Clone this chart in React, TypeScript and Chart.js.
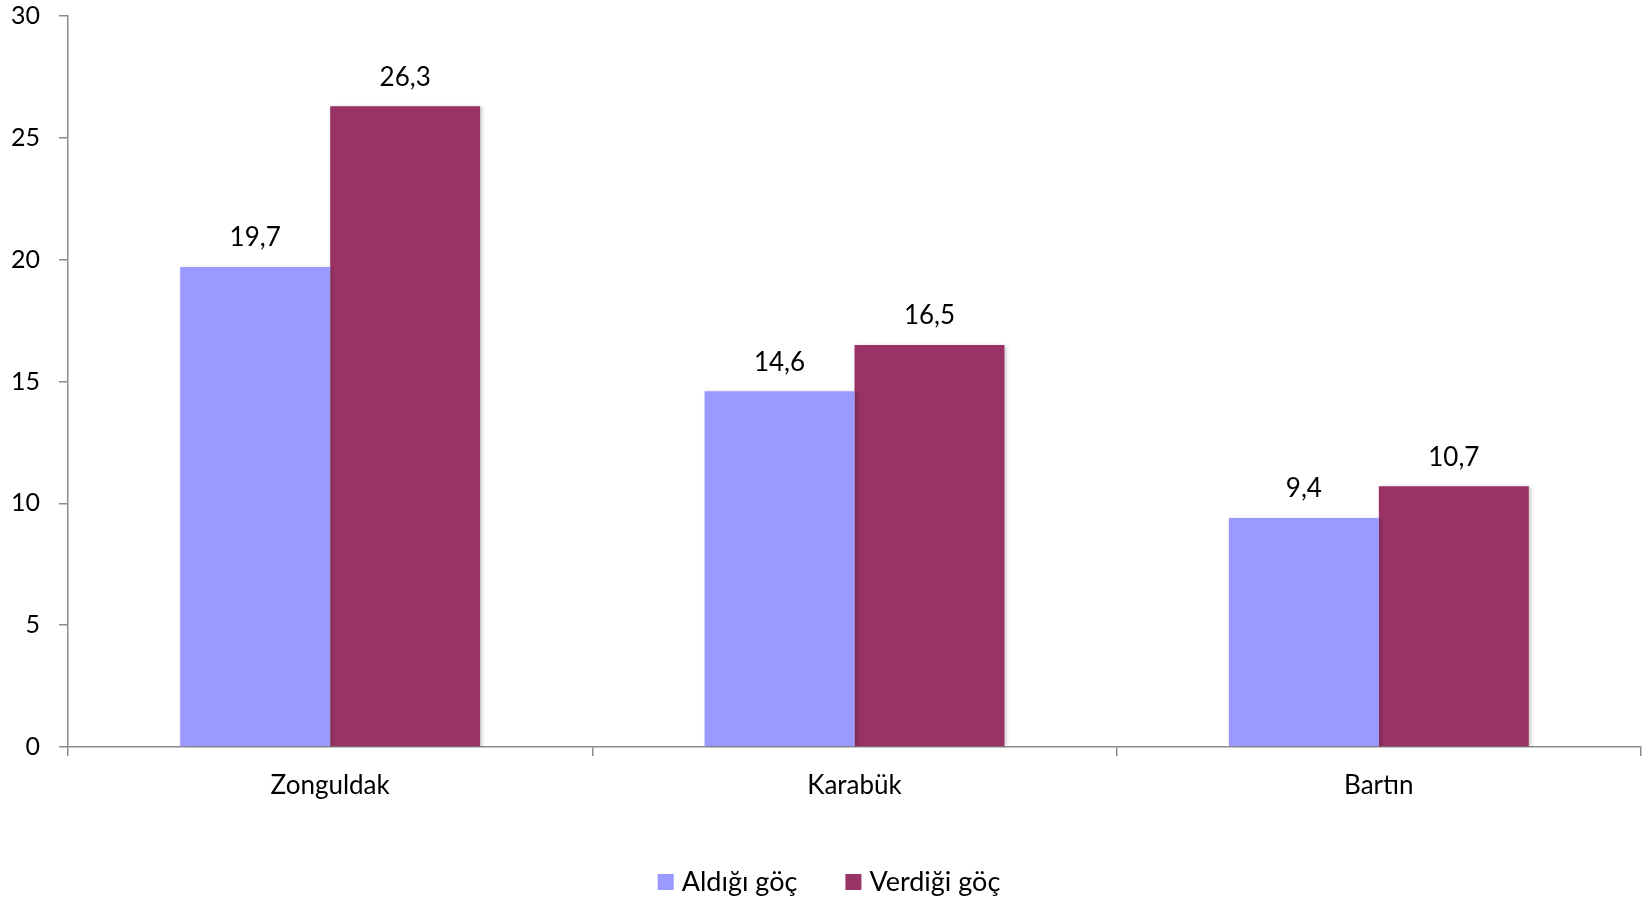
import { useEffect, useRef } from "react";
import { Chart, registerables } from "chart.js";

Chart.register(...registerables);

const categories = ["Zonguldak", "Karabük", "Bartın"];
const seriesNames = ["Aldığı göç", "Verdiği göç"];
const receivedValues = [19.7, 14.6, 9.4];
const givenValues = [26.3, 16.5, 10.7];
const seriesColors = ["#9999FF", "#993366"];
const yMin = 0;
const yMax = 30;
const yStep = 5;

const FONT = "Lato, 'Open Sans', sans-serif";
const AXIS_COLOR = "#8c8c8c";

const dataLabelPlugin = {
  id: "dataLabels",
  afterDatasetsDraw(chart: any) {
    const ctx = chart.ctx;
    ctx.save();
    ctx.font = `26px ${FONT}`;
    ctx.fillStyle = "#000";
    ctx.textAlign = "center";
    ctx.textBaseline = "middle";
    chart.data.datasets.forEach((ds: any, i: number) => {
      const meta = chart.getDatasetMeta(i);
      meta.data.forEach((el: any, j: number) => {
        const v = ds.data[j] as number;
        ctx.fillText(v.toFixed(1).replace(".", ","), el.x, el.y - 29);
      });
    });
    ctx.restore();
  },
};

const legendPlugin = {
  id: "customLegend",
  afterDraw(chart: any) {
    const ctx = chart.ctx;
    ctx.save();
    ctx.font = `27px ${FONT}`;
    ctx.textBaseline = "middle";
    ctx.textAlign = "left";
    const box = 16;
    const boxGap = 8;
    const itemGap = 48;
    const items = chart.data.datasets.map((ds: any) => ({
      label: ds.label as string,
      color: ds.backgroundColor as string,
      w: box + boxGap + ctx.measureText(ds.label).width,
    }));
    const total = items.reduce((a: number, it: any) => a + it.w, 0) + itemGap * (items.length - 1);
    let x = 829 - total / 2;
    const cy = 882;
    items.forEach((it: any) => {
      ctx.fillStyle = it.color;
      ctx.fillRect(x, cy - box / 2, box, box);
      ctx.fillStyle = "#000";
      ctx.fillText(it.label, x + box + boxGap, cy);
      x += it.w + itemGap;
    });
    ctx.restore();
  },
};

const shadowPlugin = {
  id: "barShadow",
  beforeDatasetsDraw(chart: any) {
    const ctx = chart.ctx;
    ctx.save();
    ctx.shadowColor = "rgba(0,0,0,0.22)";
    ctx.shadowBlur = 4;
    ctx.shadowOffsetX = 2;
    ctx.shadowOffsetY = 1;
  },
  afterDatasetsDraw(chart: any) {
    chart.ctx.restore();
  },
};

export default function App() {
  const ref = useRef<HTMLCanvasElement | null>(null);

  useEffect(() => {
    if (!ref.current) return;
    const chart = new Chart(ref.current, {
      type: "bar",
      data: {
        labels: categories,
        datasets: [
          {
            label: seriesNames[0],
            data: receivedValues,
            backgroundColor: seriesColors[0],
            borderWidth: 0,
          },
          {
            label: seriesNames[1],
            data: givenValues,
            backgroundColor: seriesColors[1],
            borderWidth: 0,
          },
        ],
      },
      options: {
        animation: false,
        responsive: true,
        maintainAspectRatio: false,
        layout: { padding: { top: 16, right: 1, left: 0, bottom: 50 } },
        datasets: {
          bar: { barPercentage: 1, categoryPercentage: 0.572 },
        },
        plugins: {
          tooltip: { enabled: false },
          legend: { display: false },
        },
        scales: {
          x: {
            offset: true,
            border: { color: AXIS_COLOR, width: 1.5 },
            grid: {
              offset: true,
              drawOnChartArea: false,
              drawTicks: true,
              tickLength: 9,
              color: AXIS_COLOR,
              lineWidth: 1.5,
            },
            ticks: {
              font: { family: FONT, size: 26 },
              color: "#000",
              padding: 14,
            },
            afterFit: (s: any) => {
              s.height = 103;
            },
          },
          y: {
            min: yMin,
            max: yMax,
            border: { color: AXIS_COLOR, width: 1.5 },
            grid: {
              drawOnChartArea: false,
              drawTicks: true,
              tickLength: 9,
              color: AXIS_COLOR,
              lineWidth: 1.5,
            },
            ticks: {
              stepSize: yStep,
              font: { family: FONT, size: 25 },
              color: "#000",
              padding: 19,
            },
            afterFit: (s: any) => {
              s.width = 68;
              s.paddingTop = 0;
              s.paddingBottom = 0;
            },
          },
        },
      },
      plugins: [shadowPlugin, dataLabelPlugin, legendPlugin],
    });
    return () => chart.destroy();
  }, []);

  return (
    <div style={{ position: "absolute", left: 0, top: 0, width: 1642, height: 900 }}>
      <canvas ref={ref} />
    </div>
  );
}
